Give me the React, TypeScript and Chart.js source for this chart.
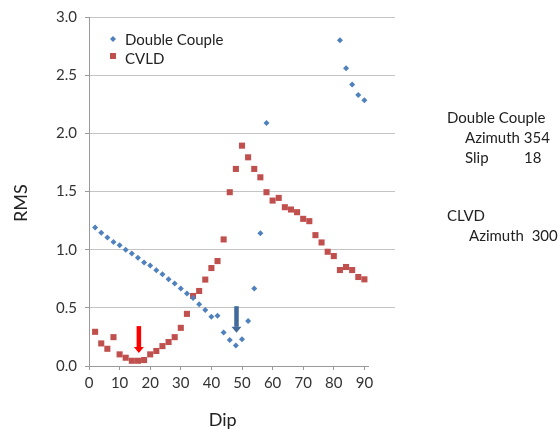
import React, { useEffect, useRef } from "react";
import { Chart, registerables } from "chart.js";

Chart.register(...registerables);

// ---- data ----
const DC_DIP = [2, 4, 6, 8, 10, 12, 14, 16, 18, 20, 22, 24, 26, 28, 30, 32, 34, 36, 38, 40, 42, 44, 46, 48, 50, 52, 54, 56, 58, 82, 84, 86, 88, 90];
const DC_RMS = [1.19, 1.146, 1.105, 1.065, 1.037, 1.0, 0.966, 0.93, 0.89, 0.863, 0.823, 0.788, 0.745, 0.709, 0.666, 0.623, 0.585, 0.531, 0.482, 0.423, 0.431, 0.289, 0.223, 0.177, 0.229, 0.386, 0.666, 1.142, 2.088, 2.8, 2.56, 2.42, 2.33, 2.285];

const CVLD_DIP = [2, 4, 6, 8, 10, 12, 14, 16, 18, 20, 22, 24, 26, 28, 30, 32, 34, 36, 38, 40, 42, 44, 46, 48, 50, 52, 54, 56, 58, 60, 62, 64, 66, 68, 70, 72, 74, 76, 78, 80, 82, 84, 86, 88, 90];
const CVLD_RMS = [0.294, 0.194, 0.148, 0.248, 0.1, 0.071, 0.045, 0.045, 0.051, 0.1, 0.129, 0.171, 0.206, 0.248, 0.328, 0.448, 0.602, 0.645, 0.743, 0.842, 0.902, 1.088, 1.494, 1.694, 1.894, 1.794, 1.694, 1.622, 1.494, 1.422, 1.445, 1.365, 1.345, 1.322, 1.265, 1.245, 1.125, 1.062, 0.982, 0.945, 0.825, 0.851, 0.825, 0.765, 0.745];

const SERIES_NAMES = ["Double Couple", "CVLD"];
const X_TICK_MAX = 90;
const X_TITLE = "Dip";
const Y_TITLE = "RMS";

// arrows: dip, from RMS, to RMS
const ARROW_DIP = [16.3, 48.2];
const ARROW_FROM = [0.343, 0.514];
const ARROW_TO = [0.111, 0.285];
const ARROW_COLORS = ["#ff0000", "#41699a"];

const SIDE_TEXT = [
  { t: "Double Couple", x: 447, y: 118 },
  { t: "Azimuth 354", x: 465, y: 138 },
  { t: "Slip", x: 465, y: 158 },
  { t: "18", x: 524, y: 158 },
  { t: "CLVD", x: 447, y: 216 },
  { t: "Azimuth  300", x: 469, y: 236 },
];

const BLUE = "#4f81bd";
const RED = "#c0504d";
const FONT = "Lato, 'Open Sans', sans-serif";

const extrasPlugin = {
  id: "extras",
  beforeDatasetsDraw(chart: any) {
    const { ctx, scales } = chart;
    const x = scales.x, y = scales.y;
    // x axis line up to just past 90
    ctx.save();
    ctx.strokeStyle = "#9a9a9a";
    ctx.lineWidth = 1;
    const y0 = Math.round(y.getPixelForValue(0)) + 0.5;
    ctx.beginPath();
    ctx.moveTo(chart.chartArea.left, y0);
    ctx.lineTo(x.getPixelForValue(91.5), y0);
    ctx.stroke();
    ctx.restore();
  },
  afterDatasetsDraw(chart: any) {
    const { ctx, scales, chartArea } = chart;
    const x = scales.x, y = scales.y;
    // arrows
    ARROW_DIP.forEach((d, i) => {
      const px = x.getPixelForValue(d);
      const ya = y.getPixelForValue(ARROW_FROM[i]);
      const yb = y.getPixelForValue(ARROW_TO[i]);
      const sw = 4.5, hw = 5, hl = 6;
      ctx.save();
      ctx.fillStyle = ARROW_COLORS[i];
      ctx.fillRect(px - sw / 2, ya, sw, yb - hl - ya);
      ctx.beginPath();
      ctx.moveTo(px - hw, yb - hl);
      ctx.lineTo(px + hw, yb - hl);
      ctx.lineTo(px, yb);
      ctx.closePath();
      ctx.fill();
      ctx.restore();
    });
    // legend inside plot
    ctx.save();
    const lx = chartArea.left + 24;
    const ly = chartArea.top + 22;
    ctx.fillStyle = BLUE;
    ctx.beginPath();
    ctx.moveTo(lx, ly - 3);
    ctx.lineTo(lx + 3, ly);
    ctx.lineTo(lx, ly + 3);
    ctx.lineTo(lx - 3, ly);
    ctx.closePath();
    ctx.fill();
    ctx.fillStyle = RED;
    ctx.fillRect(lx - 3, ly + 14, 6, 6);
    ctx.fillStyle = "#222";
    ctx.font = `15px ${FONT}`;
    ctx.textBaseline = "middle";
    ctx.textAlign = "left";
    ctx.fillText(SERIES_NAMES[0], lx + 12, ly + 1);
    ctx.fillText(SERIES_NAMES[1], lx + 12, ly + 20);
    // side text
    SIDE_TEXT.forEach((s) => ctx.fillText(s.t, s.x, s.y));
    // axis titles
    ctx.font = `18px ${FONT}`;
    ctx.textAlign = "center";
    ctx.fillText(X_TITLE, (x.getPixelForValue(0) + x.getPixelForValue(X_TICK_MAX)) / 2 - 4, 420);
    ctx.translate(21, y.getPixelForValue(1.4));
    ctx.rotate(-Math.PI / 2);
    ctx.fillText(Y_TITLE, 0, 0);
    ctx.restore();
  },
};

export default function App() {
  const ref = useRef<HTMLCanvasElement>(null);
  useEffect(() => {
    if (!ref.current) return;
    const chart = new Chart(ref.current, {
      type: "scatter",
      data: {
        datasets: [
          {
            label: SERIES_NAMES[0],
            data: DC_DIP.map((d, i) => ({ x: d, y: DC_RMS[i] })),
            pointStyle: "rectRot",
            pointRadius: 3,
            borderWidth: 0,
            backgroundColor: BLUE,
            borderColor: BLUE,
          },
          {
            label: SERIES_NAMES[1],
            data: CVLD_DIP.map((d, i) => ({ x: d, y: CVLD_RMS[i] })),
            pointStyle: "rect",
            pointRadius: 4.3,
            borderWidth: 0,
            backgroundColor: RED,
            borderColor: RED,
          },
        ],
      },
      plugins: [extrasPlugin],
      options: {
        responsive: false,
        animation: false,
        layout: { padding: { top: 16, right: 165, left: 0, bottom: 0 } },
        plugins: { legend: { display: false }, tooltip: { enabled: false } },
        scales: {
          x: {
            type: "linear",
            min: 0,
            max: 100,
            afterBuildTicks: (s: any) => {
              s.ticks = s.ticks.filter((t: any) => t.value <= X_TICK_MAX);
            },
            afterFit: (s: any) => {
              s.height = 64;
            },
            ticks: {
              stepSize: 10,
              padding: 4,
              color: "#333",
              font: { family: FONT, size: 15 },
            },
            grid: {
              drawOnChartArea: false,
              drawTicks: true,
              tickLength: 4,
              color: "#9a9a9a",
            },
            border: { display: false },
          },
          y: {
            min: 0,
            max: 3,
            afterFit: (s: any) => {
              s.width = 89;
            },
            ticks: {
              stepSize: 0.5,
              padding: 8,
              color: "#333",
              font: { family: FONT, size: 15 },
              callback: (v: any) => Number(v).toFixed(1),
            },
            grid: {
              color: (c: any) => (c.tick && c.tick.value === 0 ? "rgba(0,0,0,0)" : "#c4c4c4"),
              tickColor: "#9a9a9a",
              tickLength: 4,
            },
            border: { display: true, color: "#9a9a9a" },
          },
        },
      },
    });
    return () => chart.destroy();
  }, []);
  return (
    <div style={{ position: "fixed", left: 0, top: 0, width: 560, height: 430, background: "#fff" }}>
      <canvas ref={ref} width={560} height={430} style={{ display: "block" }} />
    </div>
  );
}
